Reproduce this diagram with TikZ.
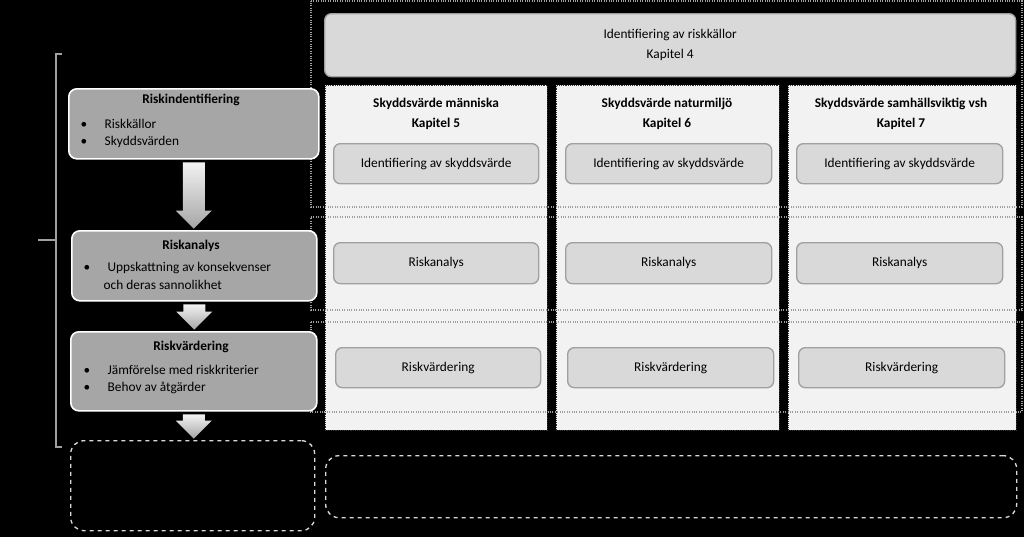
\documentclass[tikz,border=0pt]{standalone}
\usepackage{fontspec}
\setmainfont{Carlito}
\usetikzlibrary{positioning,calc}

\definecolor{boxgray}{HTML}{A6A6A6}
\definecolor{subgray}{HTML}{D9D9D9}
\definecolor{colgray}{HTML}{F2F2F2}
\definecolor{linegray}{HTML}{A0A0A0}

\tikzset{
  step_box/.style={draw=white, line width=1.2pt, fill=boxgray, rounded corners=6pt, anchor=north west, inner sep=0pt},
  sub_box/.style={draw=linegray, line width=1pt, fill=subgray, rounded corners=5pt, anchor=north west, inner sep=0pt, font=\fontsize{10}{12}\selectfont},
  col_box/.style={draw=black!80, densely dotted, fill=colgray, anchor=north west, inner sep=0pt},
  band_line/.style={draw=linegray, densely dotted, line width=0.8pt},
  open_box/.style={draw=white!85!black, dashed, line width=1pt, rounded corners=10pt, anchor=north west, inner sep=0pt},
  flow_arrow/.style={top color=white!95!black, bottom color=black!35, draw=none},
}

\begin{document}
\begin{tikzpicture}[x=0.75pt,y=-0.75pt]
  \fill[black] (0,0) rectangle (1024,537);
  \useasboundingbox (0,0) rectangle (1024,537);

  % columns
  \node[col_box, minimum width={222*0.75pt}, minimum height={345*0.75pt}] (col_a) at (325,85) {};
  \node[col_box, minimum width={223*0.75pt}, minimum height={345*0.75pt}] (col_b) at (556,85) {};
  \node[col_box, minimum width={228*0.75pt}, minimum height={345*0.75pt}] (col_c) at (788,85) {};

  % dotted bands
  \draw[band_line] (311,1) -- (1022,1) -- (1022,207) -- (311,207) -- cycle;
  \draw[band_line] (311,217) -- (1022,217) -- (1022,310) -- (311,310) -- cycle;
  \draw[band_line] (311,322) -- (1022,322) -- (1022,412) -- (311,412) -- cycle;

  \node[sub_box, minimum width={691*0.75pt}, minimum height={63*0.75pt}, align=center] (src) at (324,13)
    {Identifiering av riskkällor\\[3pt]Kapitel 4};

  % column titles
  \node[font=\bfseries\fontsize{10}{12}\selectfont, align=center] (title_a) at (436,114) {Skyddsvärde människa\\[3pt]Kapitel 5};
  \node[font=\bfseries\fontsize{10}{12}\selectfont, align=center] (title_b) at (667,114) {Skyddsvärde naturmiljö\\[3pt]Kapitel 6};
  \node[font=\bfseries\fontsize{10}{12}\selectfont, align=center] (title_c) at (901,114) {Skyddsvärde samhällsviktig vsh\\[3pt]Kapitel 7};

  % sub steps per column
  \foreach \x/\w/\n in {333/205/a, 565/206/b, 796/206/c}{
    \node[sub_box, minimum width={\w*0.75pt}, minimum height={40*0.75pt}] (ident_\n) at (\x,143) {Identifiering av skyddsvärde};
    \node[sub_box, minimum width={\w*0.75pt}, minimum height={41*0.75pt}] (anal_\n) at (\x,242) {Riskanalys};
    \node[sub_box, minimum width={\w*0.75pt}, minimum height={40*0.75pt}] (eval_\n) at (\x+2,347) {Riskvärdering};
  }

  % process steps
  \node[step_box, minimum width={250*0.75pt}, minimum height={70*0.75pt}] (risk_id) at (68,88) {};
  \node[step_box, minimum width={245*0.75pt}, minimum height={70*0.75pt}] (risk_an) at (71,230) {};
  \node[step_box, minimum width={246*0.75pt}, minimum height={79*0.75pt}] (risk_ev) at (70,331) {};

  \node[font=\bfseries\fontsize{10}{12}\selectfont] (risk_id_t) at (191,100) {Riskindentifiering};
  \node[font=\fontsize{10}{12}\selectfont, anchor=west] at (76,124) {\textbullet\hspace{1.3em}Riskkällor};
  \node[font=\fontsize{10}{12}\selectfont, anchor=west] at (76,142) {\textbullet\hspace{1.3em}Skyddsvärden};

  \node[font=\bfseries\fontsize{10}{12}\selectfont] (risk_an_t) at (191,246) {Riskanalys};
  \node[font=\fontsize{10}{12}\selectfont, anchor=west] at (79,268) {\textbullet\hspace{1.3em}Uppskattning av konsekvenser};
  \node[font=\fontsize{10}{12}\selectfont, anchor=west] at (99,285) {och deras sannolikhet};

  \node[font=\bfseries\fontsize{10}{12}\selectfont] (risk_ev_t) at (191,347) {Riskvärdering};
  \node[font=\fontsize{10}{12}\selectfont, anchor=west] at (79,370) {\textbullet\hspace{1.3em}Jämförelse med riskkriterier};
  \node[font=\fontsize{10}{12}\selectfont, anchor=west] at (79,388) {\textbullet\hspace{1.3em}Behov av åtgärder};

  % open boxes
  \node[open_box, minimum width={244*0.75pt}, minimum height={90*0.75pt}] (open_left) at (70,440) {};
  \node[open_box, minimum width={691*0.75pt}, minimum height={62*0.75pt}] (open_right) at (325,455) {};

  % block arrows
  \foreach \a/\b in {risk_id/risk_an, risk_an/risk_ev, risk_ev/open_left}{
    \shade[flow_arrow] let \p1=([yshift=-2pt]\a.south), \p2=([yshift=1pt]\b.north) in
      (\x1-8.25pt,\y1) -- (\x1+8.25pt,\y1) -- (\x1+8.25pt,\y2+13.5pt) -- (\x1+13.5pt,\y2+13.5pt)
      -- (\x1,\y2) -- (\x1-13.5pt,\y2+13.5pt) -- (\x1-8.25pt,\y2+13.5pt) -- cycle;
  }

  % bracket
  \draw[linegray, line width=1pt] (62,54) -- (56,54) -- (56,447) -- (62,447);
  \draw[linegray, line width=1pt] (56,240) -- (38,240);
\end{tikzpicture}
\end{document}
